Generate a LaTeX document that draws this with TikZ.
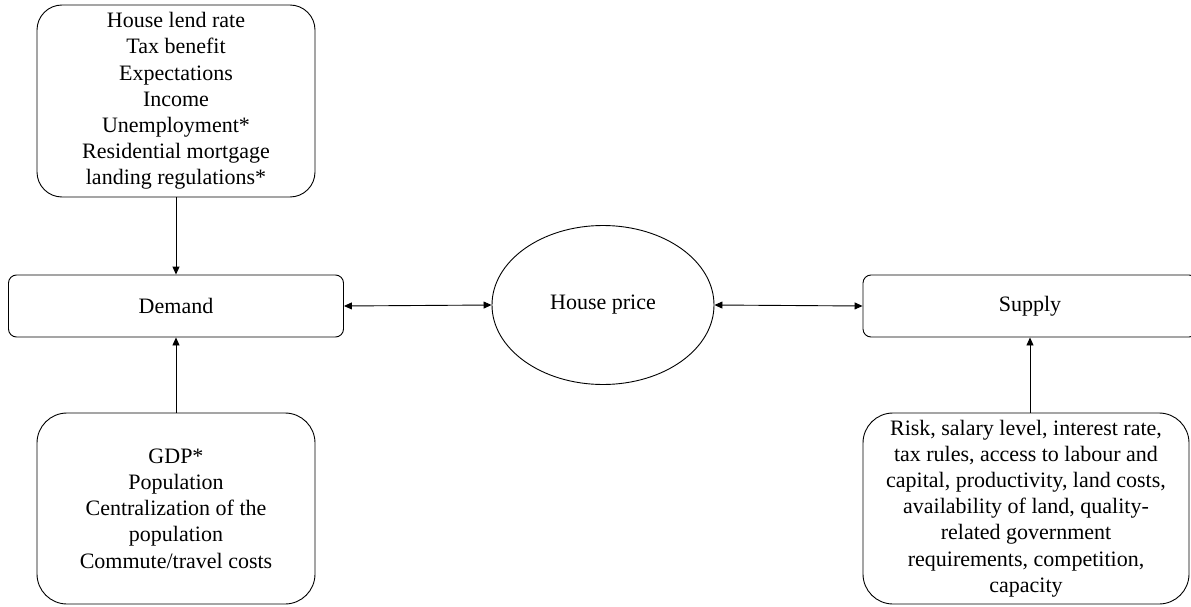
\documentclass[tikz,border=0pt]{standalone}
\usepackage{fontspec}
\setmainfont{Liberation Serif}
\usetikzlibrary{arrows.meta,shapes.geometric}
\begin{document}
\begin{tikzpicture}[x=1pt,y=-1pt,
  box/.style={draw, line width=0.9pt, align=center, inner sep=0pt, font=\fontsize{22}{26.2}\selectfont},
  conn/.style={line width=0.9pt, -{Triangle[length=8pt,width=7pt]}},
  dconn/.style={line width=0.9pt, {Triangle[length=8pt,width=7pt]}-{Triangle[length=8pt,width=7pt]}}]
\useasboundingbox (0,0) rectangle (1191,607);
\node[box, rounded corners=25pt, minimum width=278pt, minimum height=192pt] (top) at (176,101)
  {House lend rate\\Tax benefit\\Expectations\\Income\\Unemployment*\\Residential mortgage\\landing regulations*};
\node[box, rounded corners=8pt, minimum width=335pt, minimum height=62pt] (demand) at (176,306) {Demand};
\node[box, ellipse, minimum width=222pt, minimum height=159pt] (hp) at (603,305) {House price};
\node[box, rounded corners=8pt, minimum width=334pt, minimum height=62pt] (supply) at (1030,306) {Supply};
\node[box, rounded corners=30pt, minimum width=278pt, minimum height=191pt] (bl) at (176,508.5)
  {GDP*\\Population\\Centralization of the\\population\\Commute/travel costs};
\node[box, rounded corners=30pt, minimum width=326pt, minimum height=191pt] (br) at (1026,508.5)
  {Risk, salary level, interest rate,\\tax rules, access to labour and\\capital, productivity, land costs,\\availability of land, quality-\\related government\\requirements, competition,\\capacity};
\draw[conn] (top.south) -- (demand.north);
\draw[conn] (bl.north) -- (demand.south);
\draw[dconn] (demand.east) -- (hp.west);
\draw[dconn] (hp.east) -- (supply.west);
\draw[conn] (br.north -| supply.south) -- (supply.south);
\end{tikzpicture}
\end{document}
